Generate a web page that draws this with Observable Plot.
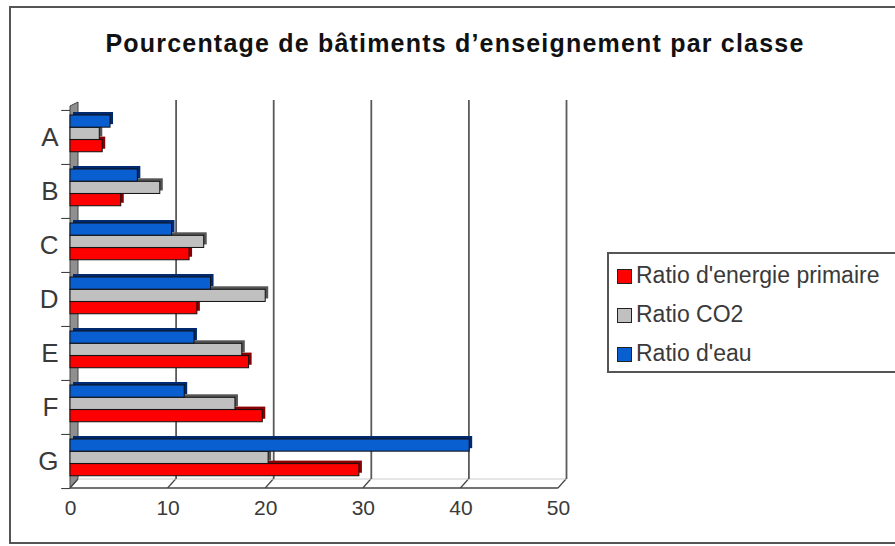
<!DOCTYPE html>
<html>
<head>
<meta charset="utf-8">
<script src="https://cdn.jsdelivr.net/npm/d3@7"></script>
<script src="https://cdn.jsdelivr.net/npm/@observablehq/plot@0.6"></script>
<style>
  html, body { margin: 0; padding: 0; background: #fff; }
  #wrap { position: relative; width: 895px; height: 546px; overflow: hidden; background: #fff; }
  #frame { position: absolute; left: 9px; top: 6px; width: 900px; height: 538px; border: 2px solid #555; border-right: none; box-sizing: border-box; }
  #title { position: absolute; left: 0; width: 910px; top: 29px; text-align: center; font-family: "Liberation Sans", Arial, sans-serif; font-weight: bold; font-size: 25px; letter-spacing: 1.2px; color: #111; }
  #chart { position: absolute; left: 0; top: 0; }
  #legend { position: absolute; left: 607px; top: 252px; width: 300px; height: 121px; border: 2px solid #555; border-right: none; box-sizing: border-box; font-family: "Liberation Sans", Arial, sans-serif; font-size: 23px; color: #3a3a3a; }
  .item { position: absolute; left: 8px; height: 26px; line-height: 26px; white-space: nowrap; }
  .sw { display: inline-block; width: 13px; height: 13px; border: 1.5px solid #222; margin-right: 4px; vertical-align: -1px; }
</style>
</head>
<body>
<div id="wrap">
  <div id="frame"></div>
  <div id="chart"></div>
  <div id="title">Pourcentage de bâtiments d’enseignement par classe</div>
  <div id="legend"></div>
</div>
<script>
// ---- Data ----
const classes = ["A", "B", "C", "D", "E", "F", "G"];
const seriesNames = ["Ratio d'energie primaire", "Ratio CO2", "Ratio d'eau"];
const seriesColors = ["#ff0000", "#c0c0c0", "#0a5fd0"];
const seriesShade = ["#8a0000", "#555555", "#002a70"];
const energie = [3.3, 5.2, 12.2, 13.0, 18.3, 19.7, 29.6];
const co2 = [3.0, 9.2, 13.7, 20.0, 17.6, 16.9, 20.3];
const eau = [4.1, 6.9, 10.4, 14.4, 12.7, 11.7, 40.9];
const xTicks = [0, 10, 20, 30, 40, 50];

const values = [energie, co2, eau];
const rows = [];
classes.forEach((c, i) => {
  seriesNames.forEach((s, k) => rows.push({ classe: c, serie: s, k, value: values[k][i] }));
});

// ---- Layout ----
const W = 895, H = 546;
const mL = 70, mR = W - 558, mT = 109, mB = H - 488;
const step = (H - mT - mB) / classes.length;
const barH = 12.3, groupTop = 5;
const depthX = 8, depthY = -9;
const sd = 3; // bar depth

// series order top to bottom within a band: eau (k=2), co2 (k=1), energie (k=0)
function insets(k) {
  const pos = 2 - k;
  const top = groupTop + pos * barH;
  return { insetTop: top, insetBottom: step - top - barH };
}

const backWall = (index, scales, vals, dims) => {
  const x = scales.x, y0 = dims.height - dims.marginBottom, y1 = dims.marginTop;
  const g = d3.create("svg:g");
  const xa = x(0);
  // left wall
  g.append("polygon")
    .attr("points", [[xa, y0], [xa, y1 - 3], [xa + depthX, y1 + depthY + 2], [xa + depthX, y0 + depthY]].map(p => p.join(",")).join(" "))
    .attr("fill", "#8f8f8f").attr("stroke", "#444").attr("stroke-width", 1);
  // floor diagonals
  xTicks.forEach(t => {
    g.append("line")
      .attr("x1", x(t)).attr("y1", y0).attr("x2", x(t) + depthX).attr("y2", y0 + depthY)
      .attr("stroke", "#444").attr("stroke-width", 1.2);
  });
  // floor back line
  g.append("line").attr("x1", xa + depthX).attr("x2", x(50) + depthX)
    .attr("y1", y0 + depthY).attr("y2", y0 + depthY).attr("stroke", "#ccc").attr("stroke-width", 1);
  // front floor line
  g.append("line").attr("x1", xa).attr("x2", x(50))
    .attr("y1", y0).attr("y2", y0).attr("stroke", "#444").attr("stroke-width", 1.5);
  return g.node();
};

const marks = [
  backWall,
  // back wall gridlines
  Plot.ruleX(xTicks.filter(d => d > 0), { dx: depthX, dy: depthY, stroke: "#5a5a5a", strokeWidth: 1.8 }),
];
[0, 1, 2].forEach(k => {
  const data = rows.filter(d => d.k === k);
  const ins = insets(k);
  marks.push(Plot.barX(data, { y: "classe", x: "value", fill: seriesShade[k], dx: sd, dy: -sd, ...ins }));
});
[0, 1, 2].forEach(k => {
  const data = rows.filter(d => d.k === k);
  const ins = insets(k);
  marks.push(Plot.barX(data, { y: "classe", x: "value", fill: seriesColors[k], stroke: "#111", strokeWidth: 1, ...ins }));
});
// category boundary ticks
marks.push(Plot.ruleY(classes, { y: d => d, x1: -0.9, x2: 0, dy: -step / 2, stroke: "#333" }));
marks.push(Plot.ruleY(["G"], { y: d => d, x1: -0.9, x2: 0, dy: step / 2, stroke: "#333" }));

const chart = Plot.plot({
  width: W, height: H,
  marginLeft: mL, marginRight: mR, marginTop: mT, marginBottom: mB,
  style: { background: "transparent", fontFamily: "Liberation Sans, Arial, sans-serif", color: "#3a3a3a" },
  x: { domain: [0, 50], label: null },
  y: { domain: classes, padding: 0, label: null },
  marks: [
    ...marks,
    Plot.axisX({ ticks: xTicks, tickSize: 0, tickPadding: 12, fontSize: 21, fill: "#3a3a3a", tickFormat: d3.format("d"), label: null }),
    Plot.axisY({ tickSize: 0, tickPadding: 12, fontSize: 26, fill: "#3a3a3a", label: null }),
  ]
});
chart.style.overflow = "visible";
document.getElementById("chart").appendChild(chart);

// legend
const leg = document.getElementById("legend");
const rowsY = [8, 47, 86];
seriesNames.forEach((s, k) => {
  const it = document.createElement("div");
  it.className = "item";
  it.style.top = rowsY[k] + "px";
  it.innerHTML = `<span class="sw" style="background:${seriesColors[k]}"></span>${s}`;
  leg.appendChild(it);
});
</script>
</body>
</html>
